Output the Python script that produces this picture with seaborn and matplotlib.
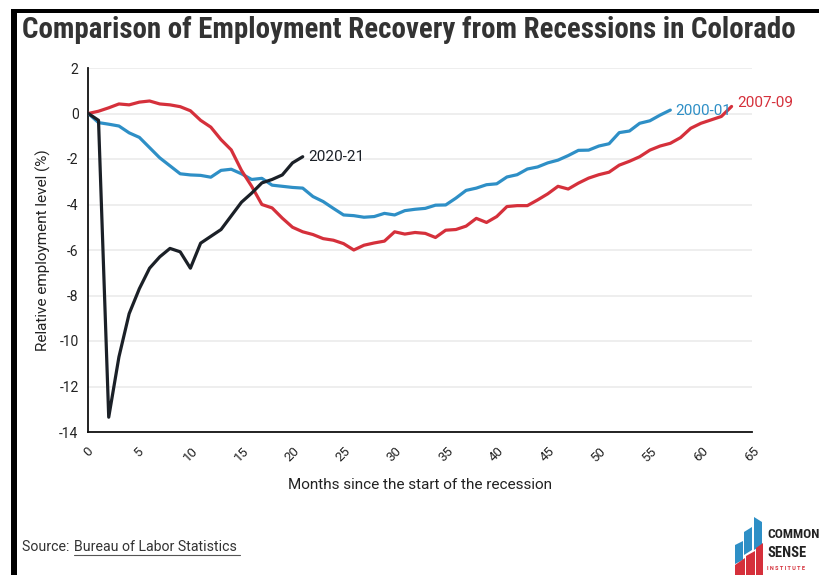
import numpy as np
import pandas as pd
import matplotlib
matplotlib.use("Agg")
import matplotlib.pyplot as plt
import seaborn as sns
from matplotlib.patches import Polygon, Rectangle
from matplotlib import font_manager as fm

# ---------------- data ----------------
rec_2020 = [0, -0.3, -13.35, -10.7, -8.8, -7.7, -6.8, -6.3, -5.93, -6.08, -6.8,
            -5.7, -5.4, -5.1, -4.5, -3.9, -3.5, -3.05, -2.9, -2.7, -2.17, -1.9]
rec_2000 = [0, -0.4, -0.47, -0.55, -0.85, -1.05, -1.5, -1.95, -2.3, -2.65, -2.7,
            -2.72, -2.8, -2.5, -2.45, -2.65, -2.9, -2.85, -3.15, -3.2, -3.25, -3.28,
            -3.65, -3.87, -4.17, -4.46, -4.49, -4.56, -4.53, -4.39, -4.46, -4.27,
            -4.21, -4.17, -4.03, -4.02, -3.72, -3.38, -3.28, -3.13, -3.09, -2.79,
            -2.69, -2.44, -2.35, -2.17, -2.05, -1.85, -1.62, -1.61, -1.43, -1.33,
            -0.84, -0.77, -0.43, -0.32, -0.07, 0.15]
rec_2007 = [0, 0.1, 0.25, 0.42, 0.38, 0.5, 0.55, 0.42, 0.38, 0.3, 0.12,
            -0.3, -0.6, -1.15, -1.6, -2.5, -3.2, -4.0, -4.15, -4.6, -5.0, -5.2,
            -5.32, -5.5, -5.57, -5.72, -6.0, -5.79, -5.69, -5.61, -5.2, -5.3,
            -5.23, -5.27, -5.45, -5.13, -5.1, -4.95, -4.61, -4.79, -4.53, -4.09,
            -4.05, -4.05, -3.8, -3.53, -3.2, -3.32, -3.06, -2.84, -2.69, -2.58,
            -2.27, -2.1, -1.9, -1.61, -1.43, -1.31, -1.06, -0.65, -0.43, -0.28,
            -0.13, 0.31]
series_names = ["2000-01", "2007-09", "2020-21"]
x_ticks = list(range(0, 70, 5))
y_ticks = list(range(-14, 4, 2))

colors = {"2000-01": "#2e8fc6", "2007-09": "#d5303b", "2020-21": "#1b2027"}

frames = []
for name, vals in zip(series_names, [rec_2000, rec_2007, rec_2020]):
    frames.append(pd.DataFrame({"month": np.arange(len(vals)), "value": vals,
                                "series": name}))
df = pd.concat(frames, ignore_index=True)

# find a condensed font if one exists
names = {f.name for f in fm.fontManager.ttflist}
cond = [n for n in ["Roboto Condensed", "Liberation Sans Narrow",
                    "DejaVu Sans Condensed"] if n in names]
cond_family = cond + ["Roboto", "DejaVu Sans"]
title_size = 20.9 if cond else 18.3

# ---------------- figure ----------------
sns.set_style("white")
plt.rcParams["font.family"] = ["Roboto", "DejaVu Sans"]

fig = plt.figure(figsize=(8.19, 5.75), dpi=100)
ax = fig.add_axes([88.3 / 819, 1 - 432 / 575, (752 - 88.3) / 819, 364 / 575])

sns.lineplot(data=df, x="month", y="value", hue="series", palette=colors,
             linewidth=2.3, ax=ax, legend=False, zorder=3)

ax.set_xlim(0, 65)
ax.set_ylim(-14, 2)
ax.set_xticks(x_ticks)
ax.set_yticks(y_ticks)
ax.set_xticklabels([str(t) for t in x_ticks], rotation=45, ha="center",
                   va="top", fontsize=9.5, color="#222222")
ax.set_yticklabels([str(t) for t in y_ticks], fontsize=10, color="#222222")
ax.tick_params(axis="both", direction="out", length=5, width=1, color="#222222",
               pad=2)
ax.tick_params(axis="x", pad=4)
for t in y_ticks:
    ax.axhline(t, color="#ebebeb", lw=1.2, zorder=0)
for s in ["top", "right"]:
    ax.spines[s].set_visible(False)
for s in ["left", "bottom"]:
    ax.spines[s].set_color("#111111")
    ax.spines[s].set_linewidth(1.3)

ax.set_xlabel("Months since the start of the recession", fontsize=11,
              color="#222222", labelpad=10)
ax.set_ylabel("Relative employment level (%)", fontsize=11, color="#222222",
              labelpad=6)

# end labels
ax.text(21.5, rec_2020[-1], "2020-21", color=colors["2020-21"], fontsize=11,
        va="center", ha="left")
ax.text(57.5, rec_2000[-1] - 0.05, "2000-01", color=colors["2000-01"],
        fontsize=11, va="center", ha="left")
ax.text(63.6, rec_2007[-1] + 0.15, "2007-09", color=colors["2007-09"],
        fontsize=11, va="center", ha="left")

# title
fig.text(22 / 819, 1 - 30 / 575, "Comparison of Employment Recovery from Recessions in Colorado",
         fontsize=title_size, fontweight="bold", color="#333333", va="center",
         ha="left", family=cond_family)

# frame lines (top and left)
fig.add_artist(Rectangle((11 / 819, 1 - 12.5 / 575), 1, 3.5 / 575,
                         transform=fig.transFigure, color="black", lw=0))
fig.add_artist(Rectangle((11 / 819, 0), 5.5 / 819, 1 - 9 / 575,
                         transform=fig.transFigure, color="black", lw=0))

# source
fig.text(22 / 819, 1 - 547 / 575, "Source: ", fontsize=10.2, color="#333333",
         va="center", ha="left")
fig.text(74 / 819, 1 - 547 / 575, "Bureau of Labor Statistics",
         fontsize=10.2, color="#333333", va="center", ha="left")
fig.add_artist(plt.Line2D([74 / 819, 240 / 819], [1 - 555 / 575, 1 - 555 / 575],
                          transform=fig.transFigure, color="#555555", lw=0.8))

# logo
def fx(px):
    return px / 819
def fy(py):
    return 1 - py / 575

blue = "#2e8fc6"
red = "#d5303b"
for poly, c in [
    ([(735, 545), (743, 541), (743, 560), (735, 564)], blue),
    ([(744, 532), (752, 527), (752, 550), (744, 555)], blue),
    ([(754, 517), (762, 522), (762, 545), (754, 550)], blue),
    ([(735, 575), (735, 565), (745, 558), (745, 575)], red),
    ([(746, 575), (746, 556), (755, 551), (755, 575)], red),
    ([(756, 575), (756, 548), (763, 543), (763, 575)], red),
]:
    fig.add_artist(Polygon([(fx(a), fy(b)) for a, b in poly], closed=True,
                           transform=fig.transFigure, color=c, lw=0))
fig.text(fx(767), fy(534), "COMMON", fontsize=9.6, fontweight="bold",
         color="#222222", va="center", ha="left", family=cond_family)
fig.text(fx(767), fy(553), "SENSE", fontsize=10.5, fontweight="bold",
         color="#222222", va="center", ha="left", family=cond_family)
fig.text(fx(767), fy(569), "I N S T I T U T E", fontsize=4, fontweight="bold",
         color=red, va="center", ha="left")

fig.savefig("out.png", dpi=100, facecolor="white")
